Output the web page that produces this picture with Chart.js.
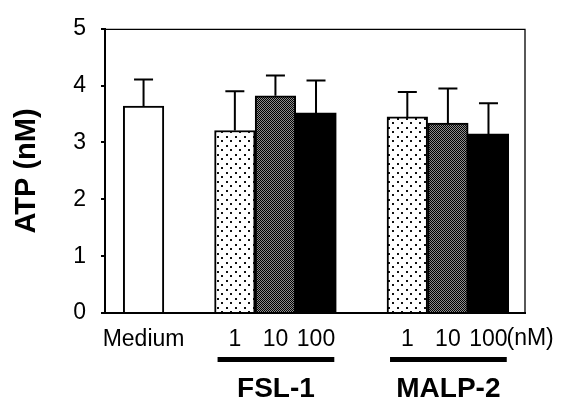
<!DOCTYPE html>
<html>
<head>
<meta charset="utf-8">
<script src="https://cdn.jsdelivr.net/npm/chart.js@4.4.0/dist/chart.umd.min.js"></script>
<style>
  body { margin: 0; background: #fff; }
  canvas { display: block; }
</style>
</head>
<body>
<canvas id="atpChart" width="564" height="398"></canvas>
<script>
// 데이터
const doseLabels = ['Medium', '1', '10', '100', '1', '10', '100'];
const barSlots = [0.95, 3.2, 4.2, 5.2, 7.45, 8.45, 9.45];   // 막대 폭 = 1
const atpMean = [3.64, 3.21, 3.82, 3.52, 3.45, 3.34, 3.15];
const atpSd = [0.47, 0.69, 0.36, 0.57, 0.44, 0.61, 0.54];
const groups = [
  { name: 'FSL-1', from: 1, to: 3 },
  { name: 'MALP-2', from: 4, to: 6 }
];
const yTicks = [0, 1, 2, 3, 4, 5];

const FONT = "Arial, 'Liberation Sans', sans-serif";

// 무늬 만들기
function dotPattern() {
  const c = document.createElement('canvas');
  c.width = 9; c.height = 9;
  const g = c.getContext('2d');
  g.fillStyle = '#fff';
  g.fillRect(0, 0, 9, 9);
  g.fillStyle = '#111';
  g.fillRect(1, 1, 2, 2);
  g.fillRect(5, 5, 2, 2);
  return g.createPattern(c, 'repeat');
}

function densePattern() {
  const c = document.createElement('canvas');
  c.width = 2; c.height = 2;
  const g = c.getContext('2d');
  g.fillStyle = '#8e8e8e';
  g.fillRect(0, 0, 2, 2);
  g.fillStyle = '#000';
  g.fillRect(0, 0, 1, 1);
  g.fillRect(1, 1, 1, 1);
  return g.createPattern(c, 'repeat');
}

const dots = dotPattern();
const dense = densePattern();
const fills = ['#fff', dots, dense, '#000', dots, dense, '#000'];

// 오차 막대 + 테두리 + 그룹 표시
const extras = {
  id: 'extras',
  afterDatasetsDraw(chart) {
    const ctx = chart.ctx;
    const y = chart.scales.y;
    const area = chart.chartArea;
    const bars = chart.getDatasetMeta(0).data;

    ctx.save();
    ctx.strokeStyle = '#000';
    ctx.lineWidth = 2;
    bars.forEach((bar, i) => {
      const top = y.getPixelForValue(atpMean[i]);
      const tip = y.getPixelForValue(atpMean[i] + atpSd[i]);
      ctx.beginPath();
      ctx.moveTo(bar.x, top);
      ctx.lineTo(bar.x, tip);
      ctx.moveTo(bar.x - 9.5, tip);
      ctx.lineTo(bar.x + 9.5, tip);
      ctx.stroke();
    });

    // 위, 오른쪽 테두리
    ctx.lineWidth = 1.3;
    ctx.beginPath();
    ctx.moveTo(area.left, area.top + 0.5);
    ctx.lineTo(area.right, area.top + 0.5);
    ctx.lineTo(area.right, area.bottom);
    ctx.stroke();

    // 단위
    ctx.fillStyle = '#000';
    ctx.font = '23px ' + FONT;
    ctx.textAlign = 'left';
    ctx.textBaseline = 'alphabetic';
    ctx.fillText('(nM)', bars[6].x + 18, 345);

    // 그룹 밑줄과 이름
    groups.forEach(grp => {
      const a = bars[grp.from];
      const b = bars[grp.to];
      const x0 = a.x - a.width / 2 + 3;
      const x1 = b.x + b.width / 2 - 2;
      ctx.fillRect(x0, 357, x1 - x0, 5);
      ctx.font = 'bold 28px ' + FONT;
      ctx.textAlign = 'center';
      ctx.fillText(grp.name, (x0 + x1) / 2, 397);
    });
    ctx.restore();
  }
};

new Chart(document.getElementById('atpChart'), {
  type: 'bar',
  data: {
    datasets: [{
      data: barSlots.map((s, i) => ({ x: s, y: atpMean[i] })),
      backgroundColor: fills,
      borderColor: '#000',
      borderWidth: 2,
      borderSkipped: 'bottom',
      categoryPercentage: 1,
      barPercentage: 1
    }]
  },
  options: {
    responsive: false,
    animation: false,
    layout: { padding: { top: 25, right: 39, left: 0, bottom: 0 } },
    plugins: {
      legend: { display: false },
      tooltip: { enabled: false }
    },
    scales: {
      x: {
        type: 'linear',
        min: 0,
        max: 10.35,
        offset: false,
        afterBuildTicks: axis => { axis.ticks = barSlots.map(v => ({ value: v })); },
        afterFit: axis => { axis.height = 85; },
        grid: { display: false, offset: false },
        border: { display: true, color: '#000', width: 2 },
        ticks: {
          autoSkip: false,
          maxRotation: 0,
          padding: 5,
          color: '#000',
          font: { family: FONT, size: 23 },
          callback: (v, i) => doseLabels[i]
        }
      },
      y: {
        min: 0,
        max: 5,
        afterBuildTicks: axis => { axis.ticks = yTicks.map(v => ({ value: v })); },
        afterFit: axis => { axis.width = 105; },
        grid: {
          drawOnChartArea: false,
          drawTicks: true,
          tickLength: 4,
          tickColor: '#000',
          lineWidth: 2
        },
        border: { display: true, color: '#000', width: 2 },
        ticks: {
          padding: 15,
          color: '#000',
          font: { family: FONT, size: 23 }
        },
        title: {
          display: true,
          text: 'ATP (nM)',
          color: '#000',
          padding: { top: 10 },
          font: { family: FONT, size: 29, weight: 'bold' }
        }
      }
    }
  },
  plugins: [extras]
});
</script>
</body>
</html>
